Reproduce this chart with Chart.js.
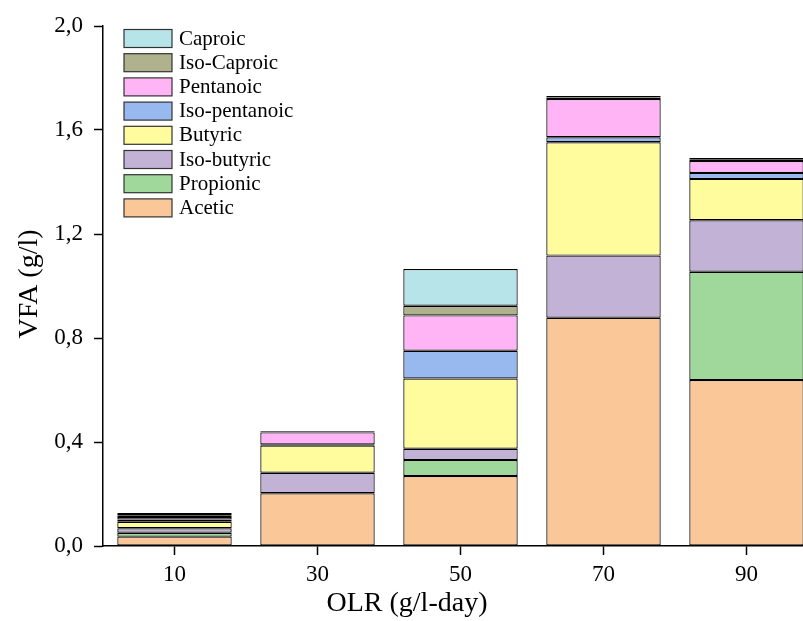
<!DOCTYPE html>
<html>
<head>
<meta charset="utf-8">
<script src="https://cdn.jsdelivr.net/npm/chart.js@4"></script>
<style>
  html, body { margin: 0; padding: 0; background: #fff; overflow: hidden; }
  #wrap { width: 818px; height: 621px; }
</style>
</head>
<body>
<div id="wrap"><canvas id="c" width="818" height="621"></canvas></div>
<script>
// OLR levels (g/l-day)
const categories = ['10', '30', '50', '70', '90'];

// VFA concentrations per acid (g/l)
const acetic       = [0.036, 0.203, 0.269, 0.878, 0.638];
const propionic    = [0.015, 0.000, 0.062, 0.000, 0.417];
const isoButyric   = [0.017, 0.079, 0.043, 0.239, 0.198];
const butyric      = [0.025, 0.104, 0.270, 0.436, 0.159];
const isoPentanoic = [0.009, 0.005, 0.107, 0.019, 0.023];
const pentanoic    = [0.010, 0.046, 0.136, 0.147, 0.046];
const isoCaproic   = [0.006, 0.002, 0.037, 0.006, 0.005];
const caproic      = [0.009, 0.003, 0.141, 0.006, 0.006];

const yTicks = [0, 0.4, 0.8, 1.2, 1.6, 2.0];

const series = [
  { label: 'Acetic',        data: acetic,       color: '#FAC898' },
  { label: 'Propionic',     data: propionic,    color: '#A0D89B' },
  { label: 'Iso-butyric',   data: isoButyric,   color: '#C2B3D6' },
  { label: 'Butyric',       data: butyric,      color: '#FFFC9D' },
  { label: 'Iso-pentanoic', data: isoPentanoic, color: '#98B8F0' },
  { label: 'Pentanoic',     data: pentanoic,    color: '#FFB4F5' },
  { label: 'Iso-Caproic',   data: isoCaproic,   color: '#AFB28C' },
  { label: 'Caproic',       data: caproic,      color: '#B6E4E8' }
];

const FONT = '"Liberation Serif", "Times New Roman", serif';

// Legend box drawn in the upper-left of the plot, top entry = last series
const legendBox = {
  id: 'legendBox',
  afterDraw(chart) {
    const ctx = chart.ctx;
    const ds = chart.data.datasets.slice().reverse();
    const x0 = 124, y0 = 29.5, bw = 48, bh = 18, step = 24.2;
    ctx.save();
    ctx.font = '21px ' + FONT;
    ctx.textBaseline = 'middle';
    ctx.textAlign = 'left';
    ds.forEach((d, i) => {
      const y = y0 + i * step;
      ctx.fillStyle = d.backgroundColor;
      ctx.fillRect(x0, y, bw, bh);
      ctx.lineWidth = 1.2;
      ctx.strokeStyle = '#333';
      ctx.strokeRect(x0, y, bw, bh);
      ctx.fillStyle = '#000';
      ctx.fillText(d.label, x0 + bw + 7, y + bh / 2 + 0.5);
    });
    ctx.restore();
  }
};

// Axis titles
const axisTitles = {
  id: 'axisTitles',
  afterDraw(chart) {
    const ctx = chart.ctx;
    ctx.save();
    ctx.fillStyle = '#000';
    ctx.font = '28px ' + FONT;
    ctx.textAlign = 'center';
    ctx.textBaseline = 'middle';
    ctx.fillText('OLR (g/l-day)', 407, 604);
    ctx.translate(30, 284);
    ctx.rotate(-Math.PI / 2);
    ctx.fillText('VFA (g/l)', 0, 0);
    ctx.restore();
  }
};

new Chart(document.getElementById('c'), {
  type: 'bar',
  data: {
    labels: categories,
    datasets: series.map(s => ({
      label: s.label,
      data: s.data,
      backgroundColor: s.color,
      borderColor: '#000',
      borderWidth: 1.2,
      borderSkipped: false,
      barPercentage: 0.8,
      categoryPercentage: 1.0
    }))
  },
  options: {
    responsive: false,
    animation: false,
    devicePixelRatio: 1,
    layout: { padding: { top: 26, left: 0, right: 0, bottom: 0 } },
    plugins: {
      legend: { display: false },
      tooltip: { enabled: false }
    },
    scales: {
      x: {
        stacked: true,
        offset: true,
        afterFit(scale) { scale.height = 75; },
        grid: {
          offset: false,
          drawOnChartArea: false,
          drawTicks: true,
          tickLength: 9,
          tickWidth: 1.5,
          tickColor: '#000'
        },
        border: { display: true, color: '#000', width: 1.5 },
        ticks: {
          color: '#000',
          padding: 6,
          font: { family: FONT, size: 23 }
        }
      },
      y: {
        stacked: true,
        min: 0,
        max: 2.0,
        afterFit(scale) { scale.width = 103; },
        afterBuildTicks(scale) { scale.ticks = yTicks.map(v => ({ value: v })); },
        grid: {
          drawOnChartArea: false,
          drawTicks: true,
          tickLength: 9,
          tickWidth: 1.5,
          tickColor: '#000'
        },
        border: { display: true, color: '#000', width: 1.5 },
        ticks: {
          color: '#000',
          padding: 11,
          font: { family: FONT, size: 23 },
          callback: v => Number(v).toFixed(1).replace('.', ',')
        }
      }
    }
  },
  plugins: [legendBox, axisTitles]
});
</script>
</body>
</html>
